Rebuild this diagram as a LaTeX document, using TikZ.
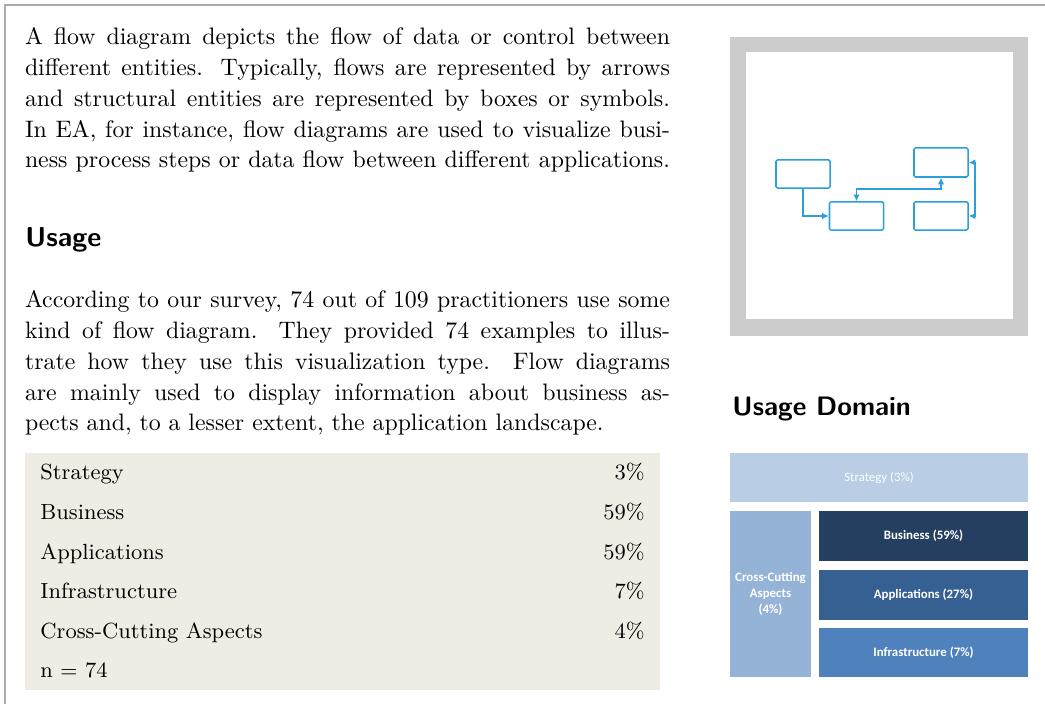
\documentclass[tikz,border=0pt]{standalone}
\usepackage{fontspec}
\newfontfamily\labelfont{Carlito}
\usetikzlibrary{arrows.meta}

\definecolor{pageline}{RGB}{170,170,170}
\definecolor{framegray}{RGB}{204,204,204}
\definecolor{flowblue}{RGB}{41,160,218}
\definecolor{tablebg}{RGB}{239,236,227}
\definecolor{tmstrategy}{RGB}{185,205,229}
\definecolor{tmcross}{RGB}{149,179,215}
\definecolor{tmbusiness}{RGB}{36,63,96}
\definecolor{tmapps}{RGB}{54,96,146}
\definecolor{tminfra}{RGB}{79,129,189}

% one justified line of body text
\newlength\bodywidth
\setlength\bodywidth{270.9pt}
\newcommand\fullline[1]{\hbox to \bodywidth{\spaceskip=0pt\xspaceskip=0pt#1}}
\newcommand\lastline[1]{\hbox to \bodywidth{#1\hfil}}

\tikzset{
  bodytext/.style={inner sep=0pt, outer sep=0pt, text width=\bodywidth, align=justify,
    font=\fontsize{10}{12.9}\selectfont, anchor=base west},
  heading/.style={inner sep=0pt, anchor=base west,
    font=\fontsize{11.5}{14}\selectfont\sffamily\bfseries},
  rowlabel/.style={inner sep=0pt, anchor=base west, font=\fontsize{9.2}{11}\selectfont},
  rowvalue/.style={inner sep=0pt, anchor=base east, font=\fontsize{9.2}{11}\selectfont},
  flowbox/.style={draw=flowblue, line width=0.65pt, rounded corners=0.6pt,
    minimum width=22.7pt, minimum height=11.8pt, inner sep=0pt},
  flowlink/.style={draw=flowblue, line width=0.65pt,
    arrows={-Latex[length=2.8pt,width=2.8pt]}},
  flowboth/.style={flowlink, arrows={Latex[length=2.8pt,width=2.8pt]-Latex[length=2.8pt,width=2.8pt]}},
  tile/.style={inner sep=0pt, outer sep=0pt, text=white, align=center,
    font=\labelfont\bfseries\fontsize{5.4}{6.7}\selectfont},
}

\begin{document}
\begin{tikzpicture}[x=0.42pt, y=-0.42pt]
\useasboundingbox (0,0) rectangle (1045,704);
\fill[white] (0,0) rectangle (1045,704);

% page edge
\draw[pageline, line width=0.7pt] (5,704) -- (5,5) -- (1045,5);

% introduction
\node[bodytext] (intro) at (25,45) {%
\fullline{A flow diagram depicts the flow of data or control between}
\fullline{different entities. Typically, flows are represented by arrows}
\fullline{and structural entities are represented by boxes or symbols.}
\fullline{In EA, for instance, flow diagrams are used to visualize busi-}
\fullline{ness process steps or data flow between different applications.}};

\node[heading] (usage) at (25,247) {Usage};

\node[bodytext] (survey) at (25,308) {%
\fullline{According to our survey, 74 out of 109 practitioners use some}
\fullline{kind of flow diagram. They provided 74 examples to illus-}
\fullline{trate how they use this visualization type. Flow diagrams}
\fullline{are mainly used to display information about business as-}
\lastline{pects and, to a lesser extent, the application landscape.}};

% results table
\fill[tablebg] (25,453) rectangle (660,690);
\node[rowlabel] (l1) at (40,480) {Strategy};
\node[rowvalue] (v1) at (645,480) {3\%};
\node[rowlabel] (l2) at (40,519.6) {Business};
\node[rowvalue] (v2) at (645,519.6) {59\%};
\node[rowlabel] (l3) at (40,559.2) {Applications};
\node[rowvalue] (v3) at (645,559.2) {59\%};
\node[rowlabel] (l4) at (40,598.8) {Infrastructure};
\node[rowvalue] (v4) at (645,598.8) {7\%};
\node[rowlabel] (l5) at (40,638.4) {Cross-Cutting Aspects};
\node[rowvalue] (v5) at (645,638.4) {4\%};
\node[rowlabel] (l6) at (40,678) {n $=$ 74};

% thumbnail of a flow diagram
\fill[framegray] (730,37) rectangle (1028,336);
\fill[white] (746,52) rectangle (1013,319);
\node[flowbox] (fa) at (803,174) {};
\node[flowbox] (fb) at (856.5,216) {};
\node[flowbox, minimum height=12.2pt] (fc) at (941,162.5) {};
\node[flowbox] (fd) at (941,216) {};
\coordinate (bc) at (900,189);
\coordinate (cd) at (975,190);
\draw[flowlink] (fa.south) |- (fb.west);
\draw[flowboth] (fb.north) |- (bc) -| (fc.south);
\draw[flowboth] (fc.east) -| (cd) |- (fd.east);

% usage domain treemap
\node[heading, font=\fontsize{11.2}{14}\selectfont\sffamily\bfseries] (domain) at (732,416) {Usage Domain};
\node[tile, fill=tmstrategy, minimum width=125.16pt, minimum height=20.58pt,
  font=\labelfont\fontsize{5.4}{6.7}\selectfont] (strategy) at (879,477.5) {Strategy (3\%)};
\node[tile, fill=tmcross, minimum width=34.02pt, minimum height=69.72pt] (cross)
  at (770.5,594) {Cross-Cutting\\Aspects\\(4\%)};
\node[tile, fill=tmbusiness, minimum width=87.78pt, minimum height=21pt] (business)
  at (923.5,536) {Business (59\%)};
\node[tile, fill=tmapps, minimum width=87.78pt, minimum height=21pt] (apps)
  at (923.5,595) {Applications (27\%)};
\node[tile, fill=tminfra, minimum width=87.78pt, minimum height=20.58pt] (infra)
  at (923.5,652.5) {Infrastructure (7\%)};
\end{tikzpicture}
\end{document}
